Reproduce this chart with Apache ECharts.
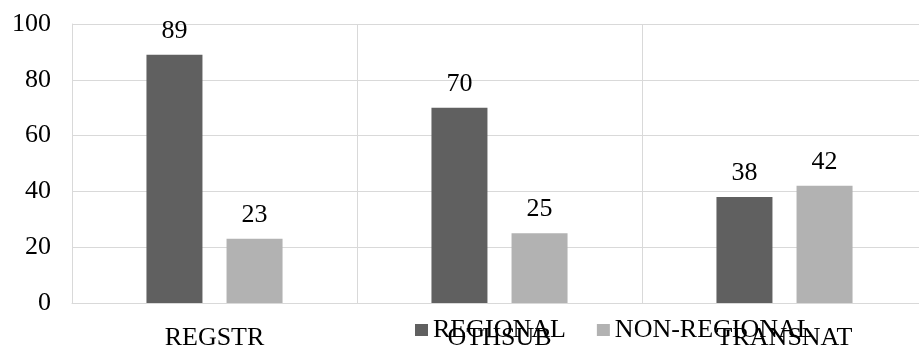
<!DOCTYPE html>
<html>
<head>
<meta charset="utf-8">
<script src="https://cdn.jsdelivr.net/npm/echarts@6/dist/echarts.min.js"></script>
<style>
	html, body { margin: 0; padding: 0; background: #fff; }
	#box { width: 919px; height: 349px; }
</style>
</head>
<body>
<div id="box"></div>
<script>
var categories = ["REGSTR", "OTHSUB", "TRANSNAT"];
var regional = [89, 70, 38];
var nonRegional = [23, 25, 42];
var font = "'Liberation Serif', 'Times New Roman', serif";

var myChart = echarts.init(document.getElementById("box"));
var option = {
	animation: false,
	textStyle: {
		fontFamily: font
	},
	grid: {
		left: 72,
		width: 855,
		top: 24,
		height: 279,
		outerBoundsMode: 'none'
	},
	legend: {
		left: 410,
		top: 312,
		itemWidth: 13,
		itemHeight: 12,
		itemGap: 31,
		icon: 'rect',
		textStyle: {
			fontFamily: font,
			fontSize: 26,
			color: '#000'
		},
		data: ['REGIONAL', 'NON-REGIONAL']
	},
	xAxis: {
		type: 'category',
		data: categories,
		axisLine: {
			lineStyle: { color: '#d9d9d9' }
		},
		axisTick: { show: false },
		splitLine: {
			show: true,
			lineStyle: { color: '#d9d9d9' }
		},
		axisLabel: {
			margin: 22,
			color: '#000',
			fontFamily: font,
			fontSize: 26
		}
	},
	yAxis: {
		type: 'value',
		min: 0,
		max: 100,
		interval: 20,
		axisLine: {
			show: true,
			lineStyle: { color: '#d9d9d9' }
		},
		splitLine: {
			lineStyle: { color: '#d9d9d9' }
		},
		axisLabel: {
			margin: 21,
			color: '#000',
			fontFamily: font,
			fontSize: 26,
			padding: [3, 0, 0, 0]
		}
	},
	series: [{
		name: 'REGIONAL',
		type: 'bar',
		data: regional,
		barWidth: 56,
		barGap: '43%',
		itemStyle: { color: '#606060' },
		label: {
			show: true,
			position: 'top',
			distance: 11,
			color: '#000',
			fontFamily: font,
			fontSize: 26
		}
	}, {
		name: 'NON-REGIONAL',
		type: 'bar',
		data: nonRegional,
		barWidth: 56,
		itemStyle: { color: '#b2b2b2' },
		label: {
			show: true,
			position: 'top',
			distance: 11,
			color: '#000',
			fontFamily: font,
			fontSize: 26
		}
	}]
};
myChart.setOption(option);
</script>
</body>
</html>
